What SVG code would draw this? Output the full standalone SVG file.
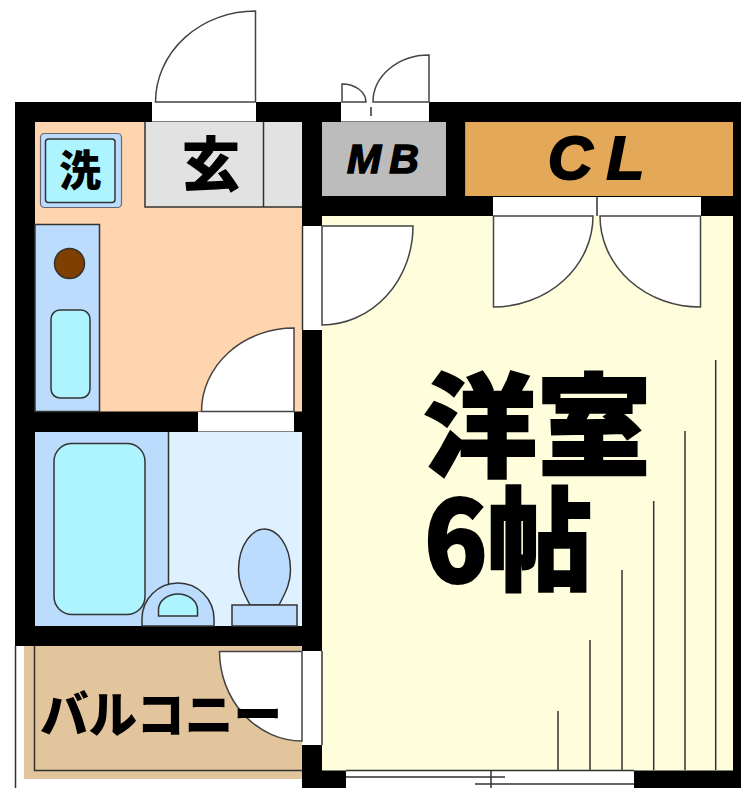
<svg xmlns="http://www.w3.org/2000/svg" width="741" height="788" viewBox="0 0 741 788">
<style>
.l{stroke:#333;stroke-width:1.5;fill:none}
.w{fill:#fff}
.k{fill:#000}
.door{fill:#fff;stroke:#444;stroke-width:1.5}
.f{stroke:#333;stroke-width:1.5}
.t{font-family:"Noto Sans CJK JP","Noto Sans",sans-serif;font-weight:900;fill:#000;text-anchor:middle}
.e{font-family:"Liberation Sans",sans-serif;font-weight:700;font-style:italic;fill:#000;stroke:#000;text-anchor:middle}
</style>
<rect width="741" height="788" fill="#fff"/>
<g id="balcony">
<rect x="24" y="646" width="280" height="133" fill="#e3c59d"/>
<path class="l" d="M15.500 646V788M34.500 646V770.500H302"/>
</g>
<g id="walls">
<rect class="k" x="15" y="102" width="726" height="20"/>
<rect class="k" x="15" y="102" width="20" height="544"/>
<rect class="k" x="15" y="411" width="307" height="21"/>
<rect class="k" x="15" y="626" width="307" height="20"/>
<rect class="k" x="302" y="102" width="20" height="686"/>
<rect class="k" x="446" y="102" width="19.500" height="114"/>
<rect class="k" x="302" y="196" width="439" height="20"/>
<rect class="k" x="733" y="102" width="8" height="686"/>
<rect class="k" x="302" y="770" width="44" height="18"/>
<rect class="k" x="634" y="770" width="107" height="18"/>
</g>
<g id="room-floor">
<rect x="322" y="216" width="411" height="554.500" fill="#fefedd"/>
<path class="l" d="M558 711V770M590 640V770M622 570V770M653.700 501V770M685 431V770M715.700 360V770"/>
</g>
<g id="kitchen">
<rect x="35" y="122" width="267" height="289.500" fill="#fed5ae"/>
<rect x="35" y="224.500" width="64.500" height="187" fill="#bcdcfd" class="f"/>
<circle cx="69.500" cy="263.500" r="15" fill="#7f3f00" class="f"/>
<rect x="51" y="310" width="39" height="88" rx="9" fill="#adf4fe" class="f"/>
</g>
<g id="washer">
<rect x="40.500" y="133.500" width="81" height="74" rx="4" fill="#bcdcfd" stroke="#667" stroke-width="1.200"/>
<rect x="45.500" y="139" width="69.500" height="63.500" rx="3" fill="#adf4fe" class="f"/>
<text class="t" x="80" y="186" font-size="42">洗</text>
</g>
<g id="entrance">
<rect x="145" y="122" width="157" height="85" fill="#e2e2e2"/>
<path class="l" d="M145 122V207H302M263.500 122V207"/>
<text class="t" x="211" y="186" font-size="59">玄</text>
<rect x="152" y="102" width="104" height="19.500" class="w"/>
<path class="door" d="M155.500 102A100 91 0 0 1 255.500 11V102Z"/>
</g>
<g id="mb">
<rect x="322" y="122" width="124" height="74" fill="#bcbcbc"/>
<text class="e" x="387" y="173" font-size="41" letter-spacing="8" stroke-width="1.500">MB</text>
<rect x="341" y="102" width="88" height="19.500" class="w"/>
<path class="door" d="M373 102A56 47 0 0 1 429 55V102Z"/>
<path class="door" d="M342 102V84A24 18 0 0 1 366 102Z"/>
<path class="l" d="M371 107V116"/>
</g>
<g id="closet">
<rect x="465.500" y="122" width="267.500" height="74" fill="#e3a959"/>
<text class="e" x="603" y="179" font-size="62" letter-spacing="14" stroke-width="2">CL</text>
<rect x="493" y="197" width="208" height="19" class="w"/>
<path class="l" d="M597 197V216"/>
<path class="door" d="M493.500 216H593A100 91 0 0 1 493.500 307Z"/>
<path class="door" d="M700.500 216H600A100 91 0 0 0 700.500 307Z"/>
</g>
<g id="room-door">
<rect x="302" y="226" width="20" height="104" class="w"/>
<path class="door" d="M322 226H413A91 99 0 0 1 322 325Z"/>
<path class="l" d="M302.500 226V330"/>
</g>
<g id="bath-door">
<rect x="198" y="412" width="96" height="19.500" class="w"/>
<path class="door" d="M201.500 411.500A92.500 83.500 0 0 1 294 328V411.500Z"/>
</g>
<g id="bathroom">
<rect x="35" y="432" width="267" height="194" fill="#dff1fe"/>
<rect x="35" y="432" width="133.500" height="194" fill="#bcdcfd"/>
<path class="l" d="M168.500 432V584"/>
<rect x="54" y="443.500" width="91" height="171" rx="18" fill="#adf4fe" class="f"/>
<path d="M142 626V619A36 36 0 0 1 214 619V626Z" fill="#bcdcfd" class="f"/>
<path d="M158.500 616V610A19.500 16 0 0 1 197.500 610V616Z" fill="#adf4fe" class="f"/>
<path d="M250 605C242 590 238.500 582 238.500 570C238.500 545 252 529 264.500 529C277 529 290.500 545 290.500 570C290.500 582 287 590 279 605Z" fill="#bcdcfd" class="f"/>
<rect x="232" y="605" width="65" height="21" fill="#bcdcfd" class="f"/>
</g>
<g id="balcony-door">
<rect x="302" y="651" width="20" height="94" class="w"/>
<path class="door" d="M219.500 651.500H302V741A83 90 0 0 1 219.500 651.500Z"/>
<path class="l" d="M322 651V745"/>
<text class="t" x="161" y="733" font-size="50" textLength="242" lengthAdjust="spacingAndGlyphs">バルコニー</text>
</g>
<g id="window">
<rect x="346" y="770" width="288" height="18" class="w"/>
<path class="l" d="M346 770.500H634M346 777H505M475 784H634M491 770V788"/>
</g>
<g id="room-label">
<text class="t" x="537" y="468" font-size="112" textLength="228" lengthAdjust="spacingAndGlyphs" stroke="#000" stroke-width="2">洋室</text>
<text class="t" x="508" y="582" font-size="112" textLength="168" lengthAdjust="spacingAndGlyphs" stroke="#000" stroke-width="2">6帖</text>
</g>
</svg>
